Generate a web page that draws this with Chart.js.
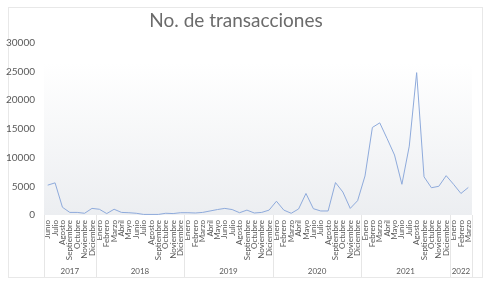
<!DOCTYPE html>
<html>
<head>
<meta charset="utf-8">
<script src="https://cdn.jsdelivr.net/npm/chart.js@4.4.1/dist/chart.umd.min.js"></script>
<style>
  html, body { margin: 0; padding: 0; background: #fff; }
  #wrap { width: 491px; height: 299px; }
</style>
</head>
<body>
<div id="wrap"><canvas id="myChart" width="491" height="299"></canvas></div>
<script>
const yearGroups = ["2017", "2018", "2019", "2020", "2021", "2022"];
const monthsPerYear = [7, 12, 12, 12, 12, 3];

const months = [
  "Junio", "Julio", "Agosto", "Septiembre", "Octubre", "Noviembre", "Diciembre",
  "Enero", "Febrero", "Marzo", "Abril", "Mayo", "Junio", "Julio", "Agosto", "Septiembre", "Octubre", "Noviembre", "Diciembre",
  "Enero", "Febrero", "Marzo", "Abril", "Mayo", "Junio", "Julio", "Agosto", "Septiembre", "Octubre", "Noviembre", "Diciembre",
  "Enero", "Febrero", "Marzo", "Abril", "Mayo", "Junio", "Julio", "Agosto", "Septiembre", "Octubre", "Noviembre", "Diciembre",
  "Enero", "Febrero", "Marzo", "Abril", "Mayo", "Junio", "Julio", "Agosto", "Septiembre", "Octubre", "Noviembre", "Diciembre",
  "Enero", "Febrero", "Marzo"
];

const transacciones = [
  5200, 5600, 1350, 450, 450, 300, 1150,
  1000, 250, 1000, 450, 400, 300, 100, 100, 100, 300, 250, 400,
  400, 350, 450, 700, 950, 1150, 950, 400, 850, 350, 450, 850,
  2400, 850, 300, 1050, 3750, 1100, 700, 700, 5650, 4000, 1150, 2500,
  6800, 15250, 16050, 13300, 10450, 5350, 12000, 24800, 6650, 4750, 5000, 6850,
  5350, 3750, 4800
];

const yTicks = [0, 5000, 10000, 15000, 20000, 25000, 30000];

const textColor = "#595959";
const fontFamily = "Lato, 'Open Sans', sans-serif";

// fondo con degradado, marco y fila de años debajo de los meses
const groupPlugin = {
  id: "groupPlugin",
  beforeDraw(chart) {
    const { ctx, chartArea } = chart;
    ctx.save();
    ctx.strokeStyle = "#e8e8e8";
    ctx.lineWidth = 1;
    ctx.strokeRect(8.5, 7.5, 474, 270);
    const g = ctx.createLinearGradient(0, chartArea.top + 20, 0, chartArea.bottom);
    g.addColorStop(0, "#ffffff");
    g.addColorStop(1, "#eceef1");
    ctx.fillStyle = g;
    ctx.fillRect(chartArea.left, chartArea.top + 20, chartArea.right - chartArea.left, chartArea.bottom - chartArea.top - 20);
    ctx.restore();
  },
  afterDraw(chart) {
    const { ctx, chartArea } = chart;
    const x = chart.scales.x;
    const half = (x.getPixelForValue(1) - x.getPixelForValue(0)) / 2;
    ctx.save();
    ctx.strokeStyle = "#e6e6e6";
    ctx.lineWidth = 1;
    ctx.fillStyle = textColor;
    ctx.font = "8px " + fontFamily;
    ctx.textAlign = "center";
    ctx.textBaseline = "middle";
    let start = 0;
    const edges = [x.getPixelForValue(0) - half];
    yearGroups.forEach((yr, k) => {
      const end = start + monthsPerYear[k] - 1;
      const left = x.getPixelForValue(start) - half;
      const right = x.getPixelForValue(end) + half;
      edges.push(right);
      ctx.fillText(yr, (left + right) / 2, chartArea.bottom + 56);
      start = end + 1;
    });
    edges.forEach((px) => {
      const xx = Math.round(px) + 0.5;
      ctx.beginPath();
      ctx.moveTo(xx, chartArea.bottom);
      ctx.lineTo(xx, 277);
      ctx.stroke();
    });
    ctx.restore();
  },
};

const ctx = document.getElementById("myChart").getContext("2d");

const myChart = new Chart(ctx, {
  type: "line",
  data: {
    labels: months,
    datasets: [
      {
        label: "No. de transacciones",
        data: transacciones,
        borderColor: "#8eaadb",
        backgroundColor: "#8eaadb",
        borderWidth: 1,
        pointRadius: 0,
        tension: 0,
      },
    ],
  },
  options: {
    responsive: false,
    animation: false,
    layout: { padding: { left: 0, right: 19, top: 0, bottom: 22 } },
    plugins: {
      legend: { display: false },
      tooltip: { enabled: false },
      title: {
        display: true,
        text: "No. de transacciones",
        color: "#6b6b6b",
        font: { family: fontFamily, size: 19, weight: "normal" },
        padding: { top: 9, bottom: 11 },
      },
    },
    scales: {
      x: {
        offset: true,
        grid: { display: false, drawTicks: false },
        border: { display: false },
        ticks: {
          autoSkip: false,
          maxRotation: 90,
          minRotation: 90,
          padding: 5,
          color: textColor,
          font: { family: fontFamily, size: 8 },
        },
        afterFit(scale) {
          scale.height = 62;
        },
      },
      y: {
        min: 0,
        max: 30000,
        grid: { display: false, drawTicks: false },
        border: { display: false },
        afterBuildTicks(scale) {
          scale.ticks = yTicks.map((v) => ({ value: v }));
        },
        ticks: {
          padding: 9,
          color: textColor,
          font: { family: fontFamily, size: 10 },
          callback: (value) => String(value),
        },
        afterFit(scale) {
          scale.width = 44;
        },
      },
    },
  },
  plugins: [groupPlugin],
});
</script>
</body>
</html>
